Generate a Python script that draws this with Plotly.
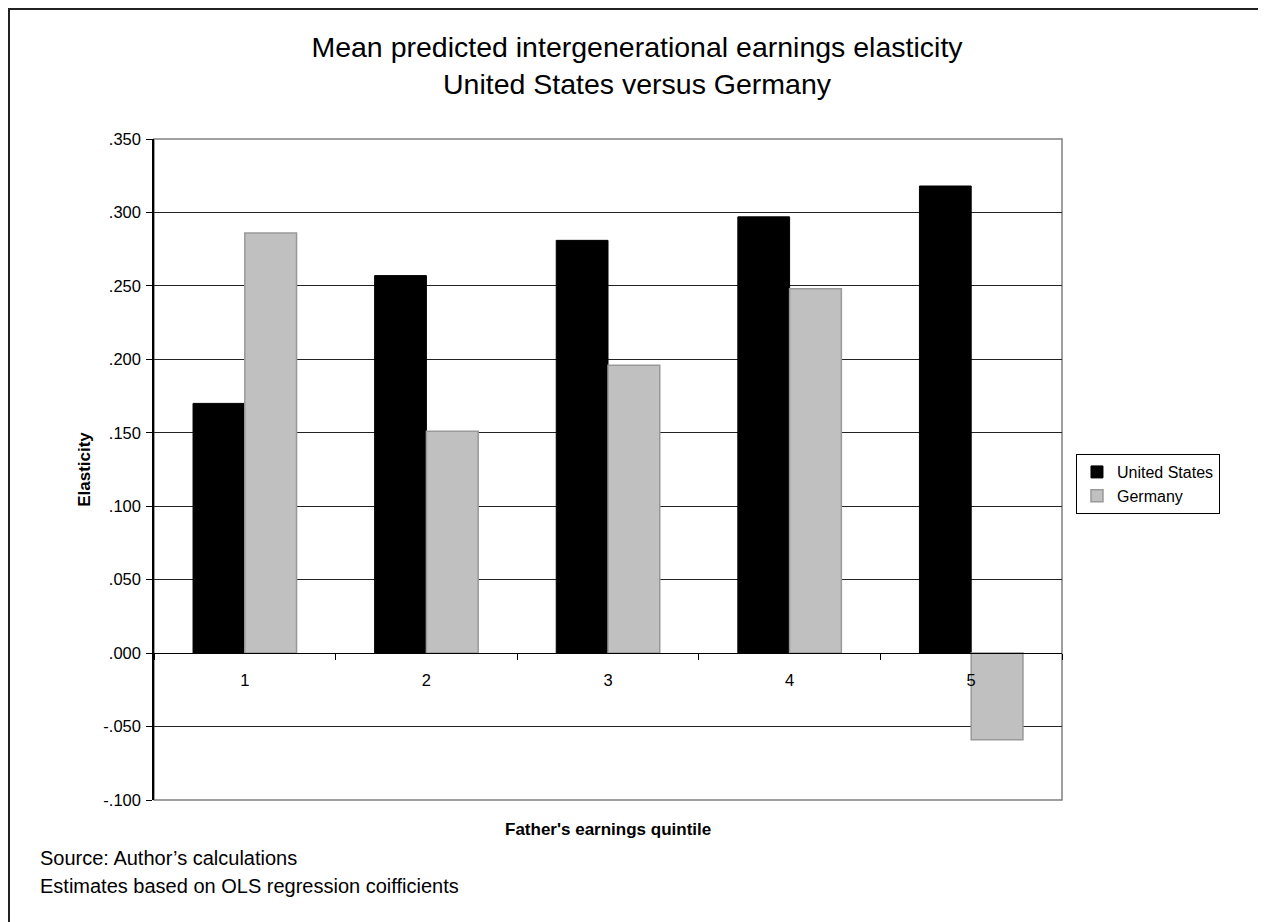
import plotly.graph_objects as go

categories = ["1", "2", "3", "4", "5"]
us_values = [0.170, 0.257, 0.281, 0.297, 0.318]
de_values = [0.286, 0.151, 0.196, 0.248, -0.059]
y_tickvals = [-0.100, -0.050, 0.000, 0.050, 0.100, 0.150, 0.200, 0.250, 0.300, 0.350]
y_ticktext = ["-.100", "-.050", ".000", ".050", ".100", ".150", ".200", ".250", ".300", ".350"]

FONT = "Arial, Liberation Sans, sans-serif"

fig = go.Figure()
fig.add_trace(go.Bar(x=categories, y=us_values, name="United States",
                     marker=dict(color="#000000", line=dict(color="#000000", width=1))))
fig.add_trace(go.Bar(x=categories, y=de_values, name="Germany",
                     marker=dict(color="#C0C0C0", line=dict(color="#999999", width=1.5))))

W, H = 1258, 914
fig.update_layout(
    width=W, height=H,
    paper_bgcolor="white", plot_bgcolor="white",
    margin=dict(l=146, r=204, t=131, b=122, autoexpand=False),
    barmode="group", bargap=0.43, bargroupgap=0,
    font=dict(family=FONT, size=16, color="black"),
    title=dict(text="Mean predicted intergenerational earnings elasticity<br>United States versus Germany",
               x=0.5, xref="container", xanchor="center",
               y=1 - 49 / H, yref="container", yanchor="middle",
               font=dict(family=FONT, size=28.5, color="black")),
    legend=dict(x=1.0154, y=0.5234, xanchor="left", yanchor="top",
                bordercolor="black", borderwidth=1, bgcolor="white",
                font=dict(family=FONT, size=16, color="black"),
                itemwidth=30, tracegroupgap=0),
    showlegend=True,
)

fig.update_yaxes(range=[-0.1, 0.35], tickvals=y_tickvals, ticktext=y_ticktext,
                 showgrid=True, gridcolor="#222222", gridwidth=1,
                 zeroline=True, zerolinecolor="#000000", zerolinewidth=1,
                 showline=True, linecolor="black", linewidth=1.5,
                 ticks="outside", ticklen=6, tickcolor="black",
                 ticklabelstandoff=2,
                 tickfont=dict(family=FONT, size=16.5),
                 title=dict(text="<b>Elasticity</b>", standoff=8,
                            font=dict(family=FONT, size=17)))

fig.update_xaxes(type="category", anchor="free", position=(0 - (-0.1)) / 0.45,
                 showline=True, linecolor="black", linewidth=1,
                 ticks="outside", tickson="boundaries", ticklen=6, tickcolor="black",
                 ticklabelstandoff=12,
                 tickfont=dict(family=FONT, size=16.5), showgrid=False)

fig.add_annotation(text="<b>Father's earnings quintile</b>", xref="paper", yref="paper",
                   x=0.5, y=(800 - 829) / 661, xanchor="center", yanchor="middle",
                   showarrow=False, font=dict(family=FONT, size=17))

fig.add_annotation(text="Source: Author\u2019s calculations", xref="paper", yref="paper",
                   x=(38 - 154) / 908, y=(800 - 858) / 661, xanchor="left", yanchor="middle",
                   showarrow=False, font=dict(family=FONT, size=20))
fig.add_annotation(text="Estimates based on OLS regression coifficients", xref="paper", yref="paper",
                   x=(38 - 154) / 908, y=(800 - 886) / 661, xanchor="left", yanchor="middle",
                   showarrow=False, font=dict(family=FONT, size=20))

# plot area border (gray) and outer frame
fig.add_shape(type="rect", xref="paper", yref="paper", x0=0, x1=1, y0=0, y1=1,
              line=dict(color="#808080", width=1.5), layer="below")
fig.add_shape(type="rect", xref="paper", yref="paper",
              x0=(9 - 154) / 908, x1=(1300 - 154) / 908,
              y0=(800 - 960) / 661, y1=(800 - 9) / 661,
              line=dict(color="#222222", width=2))

fig.write_html("out.html")
